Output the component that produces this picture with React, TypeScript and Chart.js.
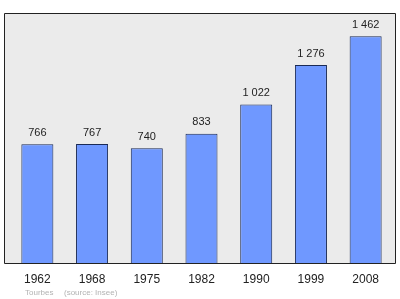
import React, { useEffect, useRef } from "react";
import { Chart, registerables } from "chart.js";

Chart.register(...registerables);

const years = ["1962", "1968", "1975", "1982", "1990", "1999", "2008"];
const population = [766, 767, 740, 833, 1022, 1276, 1462];
const townName = "Tourbes";
const sourceText = "(source: Insee)";

const fmt = (v: number) => String(v).replace(/\B(?=(\d{3})+(?!\d))/g, " ");

export default function App() {
  const ref = useRef<HTMLCanvasElement | null>(null);
  useEffect(() => {
    document.body.style.margin = "0";
    const frame = {
      id: "frame",
      beforeDraw(chart: any) {
        const { ctx, chartArea } = chart;
        const l = chartArea.left - 6, r = chartArea.right + 2;
        const t = chartArea.top, b = chartArea.bottom;
        ctx.save();
        ctx.fillStyle = "#ebebeb";
        ctx.strokeStyle = "#222";
        ctx.lineWidth = 1;
        ctx.beginPath();
        ctx.rect(l + 0.5, t + 0.5, r - l, b - t);
        ctx.fill();
        ctx.stroke();
        ctx.restore();
      },
      afterDatasetsDraw(chart: any) {
        const { ctx } = chart;
        const meta = chart.getDatasetMeta(0);
        ctx.save();
        ctx.font = "11px 'Liberation Sans', Arial, sans-serif";
        ctx.fillStyle = "#222";
        ctx.textAlign = "center";
        ctx.textBaseline = "bottom";
        meta.data.forEach((bar: any, i: number) => {
          ctx.fillText(fmt(population[i]), bar.x, bar.y - 6);
        });
        ctx.font = "8px 'Liberation Sans', Arial, sans-serif";
        ctx.fillStyle = "#b3b3b3";
        ctx.textAlign = "left";
        ctx.textBaseline = "middle";
        ctx.fillText(townName, 25, 292.5);
        ctx.fillText(sourceText, 64, 292.5);
        ctx.restore();
      },
    };
    const chart = new Chart(ref.current!, {
      type: "bar",
      data: {
        labels: years,
        datasets: [
          {
            data: population,
            backgroundColor: "#6f98ff",
            borderColor: "#1a2a55",
            borderWidth: 1,
            categoryPercentage: 1,
            barPercentage: 0.585,
          },
        ],
      },
      options: {
        animation: false,
        responsive: false,
        layout: { padding: { left: 10, right: 7, top: 13, bottom: 0 } },
        plugins: { legend: { display: false }, tooltip: { enabled: false } },
        scales: {
          x: {
            grid: { display: false, drawTicks: false },
            border: { display: false },
            ticks: {
              color: "#222",
              padding: 9,
              font: { size: 12, family: "'Liberation Sans', Arial, sans-serif" },
            },
            afterFit: (s: any) => {
              s.height = 36;
            },
          },
          y: { display: false, min: 0, max: 1612 },
        },
      },
      plugins: [frame],
    });
    return () => chart.destroy();
  }, []);
  return (
    <div style={{ position: "absolute", left: 0, top: 0, width: 400, height: 299 }}>
      <canvas ref={ref} width={400} height={299} />
    </div>
  );
}
